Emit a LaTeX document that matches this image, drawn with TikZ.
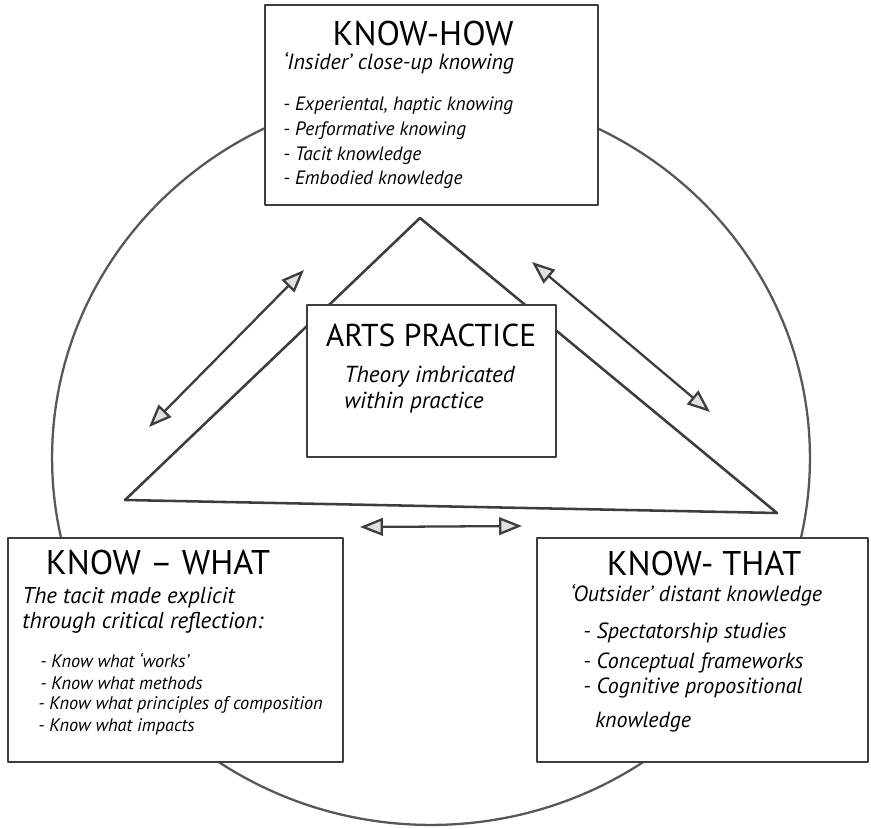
\documentclass[tikz,border=0pt]{standalone}
\usepackage{fontspec}
\setmainfont{PT Sans}
\usetikzlibrary{arrows.meta}
\begin{document}
\begin{tikzpicture}[x=0.02cm,y=-0.02cm,
  pencil/.style={draw=black!76, line width=1.45pt, line join=round, line cap=round},
  rim/.style={draw=black!66, line width=1.3pt},
  box/.style={pencil, fill=white, rectangle, inner sep=0pt},
  arr/.style={pencil, line width=1.3pt, {Triangle[length=13pt,width=10pt,fill=black!12]}-{Triangle[length=13pt,width=10pt,fill=black!12]}},
  txt/.style={inner sep=0pt, text=black},
  title/.style={txt, font=\fontsize{19.5}{22}\selectfont},
  bigline/.style={txt, anchor=west, font=\itshape\fontsize{12.5}{15}\selectfont},
  item/.style={txt, anchor=west, font=\itshape\fontsize{11}{13}\selectfont},
  small/.style={item, font=\itshape\fontsize{10.4}{12}\selectfont},
]
\useasboundingbox (0,0) rectangle (871,828);

% outer ring
\draw[rim] (431,458) ellipse [x radius=7.58cm, y radius=7.34cm];

% triangle round the practice box
\coordinate (tl) at (125,500);
\coordinate (ta) at (420,218);
\coordinate (tr) at (777,513);
\draw[pencil] (tl) -- (ta) -- (tr) -- cycle;

% two-way arrows
\coordinate (la1) at (149,427);
\coordinate (la2) at (304,270);
\coordinate (ra1) at (532,262);
\coordinate (ra2) at (710,412);
\coordinate (ba1) at (360,527);
\coordinate (ba2) at (522,526);
\draw[arr] (la1) -- (la2);
\draw[arr] (ra1) -- (ra2);
\draw[arr] (ba1) -- (ba2);

% boxes
\node[box, minimum width=6.66cm, minimum height=4cm] (how) at (431.5,105) {};
\node[box, minimum width=6.7cm, minimum height=4.48cm] (what) at (175.5,650) {};
\node[box, minimum width=6.62cm, minimum height=4.48cm] (that) at (702.5,650) {};
\node[box, minimum width=4.98cm, minimum height=3.04cm] (arts) at (431.5,381) {};

% know-how
\node[title] (howtitle) at (423,34) {KNOW-HOW};
\node[bigline] (howsub) at (283,63) {`Insider' close-up knowing};
\node[item] (how1) at (283,106) {- Experiental, haptic knowing};
\node[item] (how2) at (283,131) {- Performative knowing};
\node[item] (how3) at (283,156) {- Tacit knowledge};
\node[item] (how4) at (283,180) {- Embodied knowledge};

% arts practice
\node[title, font=\fontsize{18}{21}\selectfont] (artstitle) at (431,335) {ARTS PRACTICE};
\node[bigline, font=\itshape\fontsize{13.2}{15}\selectfont] (arts1) at (344,377) {Theory imbricated};
\node[bigline, font=\itshape\fontsize{13.2}{15}\selectfont] (arts2) at (344,403) {within practice};

% know-what
\node[title] (whattitle) at (158,562) {KNOW – WHAT};
\node[bigline, font=\itshape\fontsize{13}{15}\selectfont] (what1) at (22,598) {The tacit made explicit};
\node[bigline, font=\itshape\fontsize{13}{15}\selectfont] (what2) at (22,623) {through critical reflection:};
\node[small] (what3) at (40,660) {- Know what `works'};
\node[small] (what4) at (40,683) {- Know what methods};
\node[small] (what5) at (38,705) {- Know what principles of composition};
\node[small] (what6) at (38,727) {- Know what impacts};

% know-that
\node[title] (thattitle) at (704,563) {KNOW- THAT};
\node[bigline] (thatsub) at (570,595) {`Outsider' distant knowledge};
\node[bigline] (that1) at (583,633) {- Spectatorship studies};
\node[bigline] (that2) at (583,663) {- Conceptual frameworks};
\node[bigline] (that3) at (583,688) {- Cognitive propositional};
\node[bigline] (that4) at (595,722) {knowledge};
\end{tikzpicture}
\end{document}
